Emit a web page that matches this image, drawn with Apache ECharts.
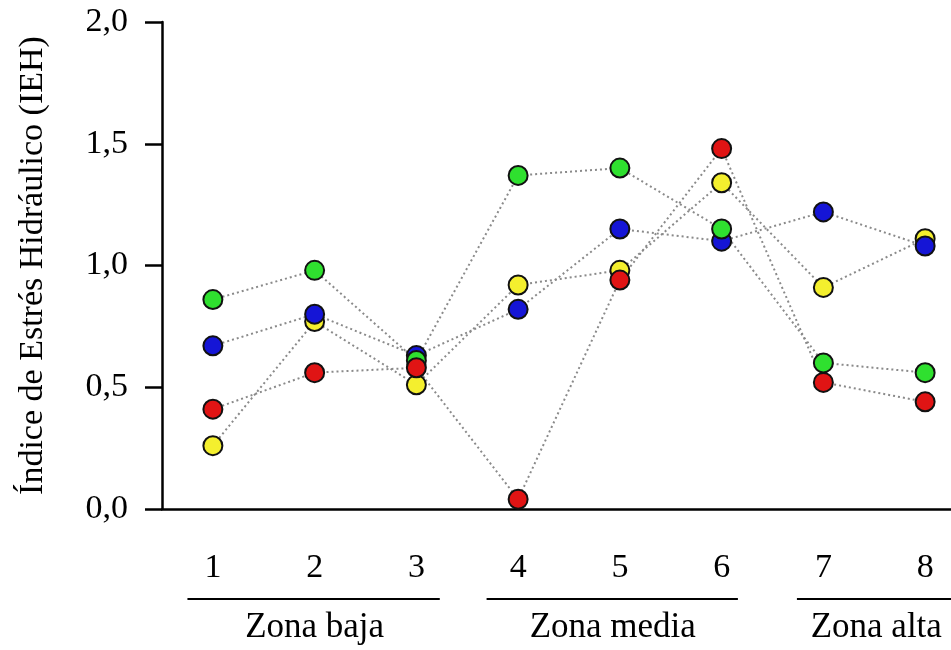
<!DOCTYPE html>
<html>
<head>
<meta charset="utf-8">
<script src="https://cdn.jsdelivr.net/npm/echarts@6/dist/echarts.min.js"></script>
<style>html,body{margin:0;padding:0;background:#fff}#c{width:951px;height:650px}</style>
</head>
<body>
<div id="c"></div>
<script>
const categories = ['1','2','3','4','5','6','7','8'];
const yellowVals = [0.26, 0.77, 0.51, 0.92, 0.98, 1.34, 0.91, 1.11];
const blueVals   = [0.67, 0.80, 0.63, 0.82, 1.15, 1.10, 1.22, 1.08];
const greenVals  = [0.86, 0.98, 0.61, 1.37, 1.40, 1.15, 0.60, 0.56];
const redVals    = [0.41, 0.56, 0.58, 0.04, 0.94, 1.48, 0.52, 0.44];
const yTicks = [0, 0.5, 1.0, 1.5, 2.0];
const zoneNames = ['Zona baja', 'Zona media', 'Zona alta'];
const zoneStart = [0.75, 3.69, 6.74];   // in category units (1-based)
const zoneEnd   = [3.23, 6.16, 8.4];
const zoneLabelCenter = [2.0, 4.93, 7.52];

const FONT = '"Liberation Serif", "Times New Roman", serif';
const chart = echarts.init(document.getElementById('c'), null, {renderer: 'canvas'});

function mk(name, data, color) {
  return {
    name, type: 'line', data,
    symbol: 'circle', symbolSize: 19,
    itemStyle: {color, borderColor: '#111', borderWidth: 2},
    lineStyle: {color: '#8a8a8a', width: 2, type: [2, 3]},
    emphasis: {disabled: true}, animation: false
  };
}

chart.setOption({
  animation: false,
  backgroundColor: '#fff',
  grid: {left: 162, top: 22, width: 814, bottom: 141, containLabel: false, outerBoundsMode: 'none'},
  xAxis: {
    type: 'category', data: categories, boundaryGap: true,
    axisLine: {lineStyle: {color: '#000', width: 2.5}},
    axisTick: {alignWithLabel: true, length: 12, lineStyle: {color: '#000', width: 2.5}},
    axisLabel: {color: '#000', fontFamily: FONT, fontSize: 34, margin: 42},
    splitLine: {show: false}
  },
  yAxis: {
    type: 'value', min: yTicks[0], max: yTicks[yTicks.length - 1], interval: 0.5,
    name: 'Índice de Estrés Hidráulico (IEH)', nameLocation: 'middle', nameGap: 112,
    nameTextStyle: {color: '#000', fontFamily: FONT, fontSize: 34},
    axisLine: {show: true, lineStyle: {color: '#000', width: 2.5}},
    axisTick: {show: true, length: 17, lineStyle: {color: '#000', width: 2.5}},
    axisLabel: {color: '#000', fontFamily: FONT, fontSize: 34, margin: 34,
      formatter: v => v.toFixed(1).replace('.', ',')},
    splitLine: {show: false}
  },
  series: [
    mk('Amarillo', yellowVals, '#f4ef2e'),
    mk('Azul', blueVals, '#1515d6'),
    mk('Verde', greenVals, '#2fe02f'),
    mk('Rojo', redVals, '#e01414')
  ]
});

function catPx(v) {
  const p0 = chart.convertToPixel({xAxisIndex: 0}, 0);
  const step = chart.convertToPixel({xAxisIndex: 0}, 1) - p0;
  return p0 + (v - 1) * step;
}

const graphics = [];
for (let k = 0; k < zoneNames.length; k++) {
  graphics.push({type: 'line', shape: {x1: catPx(zoneStart[k]), y1: 599, x2: catPx(zoneEnd[k]), y2: 599},
    style: {stroke: '#000', lineWidth: 2}});
  graphics.push({type: 'text', x: catPx(zoneLabelCenter[k]), y: 628,
    style: {text: zoneNames[k], fill: '#000', font: '35px ' + FONT, textAlign: 'center', textVerticalAlign: 'middle'}});
}
chart.setOption({graphic: graphics});
</script>
</body>
</html>
